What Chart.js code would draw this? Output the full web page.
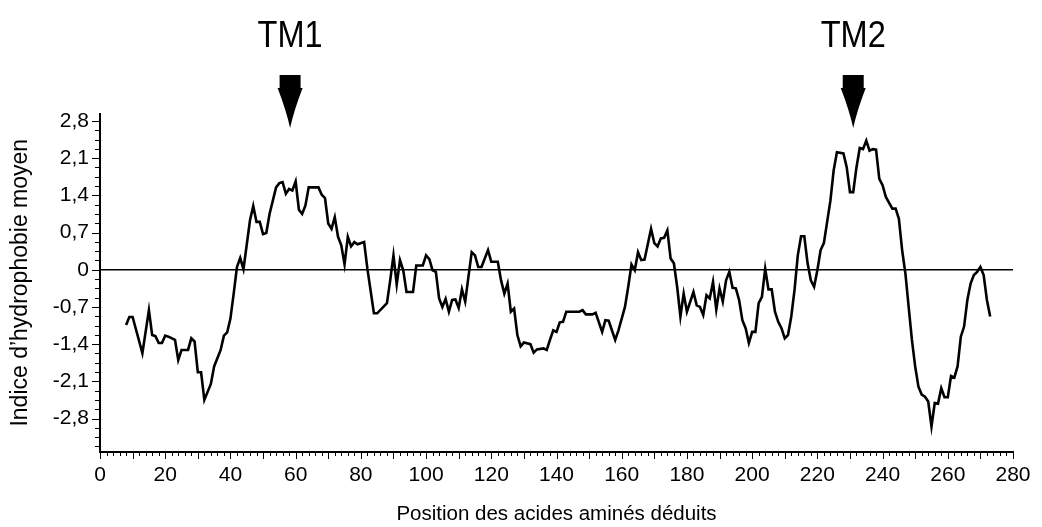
<!DOCTYPE html>
<html>
<head>
<meta charset="utf-8">
<script src="https://cdn.jsdelivr.net/npm/chart.js@4"></script>
<style>
  html, body { margin: 0; padding: 0; background: #fff; }
  #wrap { width: 1042px; height: 527px; }
</style>
</head>
<body>
<div id="wrap"><canvas id="chartHydro" width="1042" height="527"></canvas></div>
<script>
// positions des résidus (axe x) et indice d'hydrophobie
const positions = [
  8, 9, 10, 13, 15, 16, 17, 18, 19, 20, 21, 23, 24, 25, 27, 28, 29, 30, 31, 32,
  34, 35, 37, 38, 39, 40, 41, 42, 43, 44, 46, 47, 48, 49, 50, 51, 52, 54, 55, 56,
  57, 58, 59, 60, 61, 62, 63, 64, 67, 68, 69, 70, 71, 72, 73, 74, 75, 76, 77, 78,
  79, 81, 82, 84, 85, 88, 89, 90, 91, 92, 93, 94, 96, 97, 99, 100, 101, 102, 103, 104,
  105, 106, 107, 108, 109, 110, 111, 112, 113, 114, 115, 116, 117, 119, 120, 122, 123, 124, 125, 126,
  127, 128, 129, 130, 132, 133, 134, 136, 137, 138, 139, 140, 141, 142, 143, 147, 148, 149, 151, 152,
  154, 155, 156, 158, 159, 161, 162, 163, 164, 165, 166, 167, 169, 170, 171, 172, 173, 174, 175, 176,
  177, 178, 179, 180, 182, 183, 184, 185, 186, 187, 188, 189, 190, 191, 192, 193, 194, 195, 196, 197,
  198, 199, 200, 201, 202, 203, 204, 205, 206, 207, 208, 209, 210, 211, 212, 213, 214, 215, 216, 217,
  218, 219, 220, 221, 222, 224, 225, 226, 228, 229, 230, 231, 232, 233, 234, 235, 236, 237, 238, 239,
  240, 241, 243, 244, 245, 246, 247, 248, 249, 250, 251, 252, 253, 254, 255, 256, 257, 258, 259, 260,
  261, 262, 263, 264, 265, 266, 267, 268, 269, 270, 271, 272, 273
];
const hydro = [
  -1.04, -0.89, -0.89, -1.57, -0.76, -1.23, -1.25, -1.38, -1.38, -1.24, -1.26, -1.32, -1.70, -1.51, -1.51, -1.29, -1.35, -1.93, -1.93, -2.45,
  -2.15, -1.82, -1.51, -1.24, -1.18, -0.92, -0.45, 0.05, 0.22, 0.01, 0.93, 1.20, 0.90, 0.90, 0.67, 0.69, 1.05, 1.55, 1.63, 1.65,
  1.43, 1.52, 1.49, 1.66, 1.13, 1.05, 1.21, 1.55, 1.55, 1.41, 1.35, 0.87, 0.77, 0.99, 0.62, 0.46, 0.10, 0.62, 0.44, 0.52,
  0.48, 0.52, 0.02, -0.82, -0.82, -0.63, -0.20, 0.27, -0.28, 0.18, -0.01, -0.42, -0.42, 0.08, 0.08, 0.27, 0.20, -0.01, -0.04, -0.54,
  -0.70, -0.55, -0.79, -0.57, -0.56, -0.72, -0.37, -0.60, -0.13, 0.33, 0.27, 0.05, 0.05, 0.37, 0.15, 0.15, -0.20, -0.45, -0.26, -0.79,
  -0.73, -1.23, -1.44, -1.37, -1.40, -1.56, -1.50, -1.48, -1.51, -1.32, -1.14, -1.17, -0.99, -0.98, -0.79, -0.79, -0.76, -0.84, -0.84, -0.81,
  -1.17, -0.95, -0.96, -1.32, -1.14, -0.70, -0.32, 0.10, -0.01, 0.33, 0.18, 0.19, 0.77, 0.50, 0.44, 0.59, 0.60, 0.74, 0.21, 0.12,
  -0.32, -0.88, -0.45, -0.79, -0.42, -0.67, -0.70, -0.85, -0.48, -0.54, -0.23, -0.75, -0.35, -0.60, -0.20, -0.04, -0.34, -0.35, -0.57, -0.95,
  -1.10, -1.38, -1.17, -1.17, -0.63, -0.51, 0.02, -0.37, -0.37, -0.79, -0.98, -1.10, -1.29, -1.23, -0.88, -0.38, 0.27, 0.63, 0.63, 0.12,
  -0.20, -0.32, -0.01, 0.37, 0.50, 1.30, 1.87, 2.21, 2.19, 1.93, 1.46, 1.46, 1.93, 2.29, 2.27, 2.43, 2.24, 2.27, 2.26, 1.71,
  1.59, 1.37, 1.15, 1.15, 0.96, 0.37, -0.07, -0.70, -1.32, -1.82, -2.20, -2.35, -2.39, -2.48, -2.95, -2.51, -2.52, -2.23, -2.40, -2.40,
  -2.00, -2.03, -1.82, -1.26, -1.07, -0.57, -0.26, -0.10, -0.04, 0.05, -0.10, -0.57, -0.88
];

// graduations
const yTickValues = [-2.8, -2.1, -1.4, -0.7, 0, 0.7, 1.4, 2.1, 2.8];
const xTickValues = [0, 20, 40, 60, 80, 100, 120, 140, 160, 180, 200, 220, 240, 260, 280];

// segments transmembranaires
const tmLabels = ['TM1', 'TM2'];
const tmPositions = [58.3, 231];

const FONT = "'Liberation Sans', Arial, sans-serif";

const fmt = (v) => {
    if (Math.abs(v) < 1e-9) return '0';
    return v.toFixed(1).replace('.', ',');
};

// petites graduations + fleches TM
const extrasPlugin = {
    id: 'extras',
    afterDraw(chart) {
        const ctx = chart.ctx;
        const xs = chart.scales.x;
        const ys = chart.scales.y;
        const area = chart.chartArea;
        ctx.save();
        ctx.strokeStyle = '#000';
        ctx.lineWidth = 1;

        // x : graduation tous les 2, longue tous les 10
        for (let v = 0; v <= 280; v += 2) {
            const px = Math.round(xs.getPixelForValue(v)) + 0.5;
            const len = (v % 10 === 0) ? 7 : 4;
            ctx.beginPath();
            ctx.moveTo(px, area.bottom);
            ctx.lineTo(px, area.bottom + len);
            ctx.stroke();
        }
        // y : graduation tous les 0,175
        for (let i = -19; i <= 16; i++) {
            const v = i * 0.175;
            if (v < ys.min || v > ys.max) continue;
            const py = Math.round(ys.getPixelForValue(v)) + 0.5;
            const len = (i % 4 === 0) ? 8 : 5;
            ctx.beginPath();
            ctx.moveTo(area.left - len, py);
            ctx.lineTo(area.left, py);
            ctx.stroke();
        }

        // fleches et etiquettes
        ctx.fillStyle = '#000';
        tmPositions.forEach((pos, i) => {
            const cx = xs.getPixelForValue(pos);
            const tip = 128;
            ctx.beginPath();
            ctx.rect(cx - 10.5, tip - 53, 21, 14);
            ctx.fill();
            ctx.beginPath();
            ctx.moveTo(cx - 12.5, tip - 40);
            ctx.lineTo(cx + 12.5, tip - 40);
            ctx.quadraticCurveTo(cx + 4, tip - 18, cx, tip);
            ctx.quadraticCurveTo(cx - 4, tip - 18, cx - 12.5, tip - 40);
            ctx.fill();

            ctx.save();
            ctx.translate(cx, 47);
            ctx.scale(0.88, 1);
            ctx.font = '37px ' + FONT;
            ctx.textAlign = 'center';
            ctx.textBaseline = 'alphabetic';
            ctx.fillText(tmLabels[i], 0, 0);
            ctx.restore();
        });
        ctx.restore();
    }
};

new Chart(document.getElementById('chartHydro'), {
    type: 'line',
    data: {
        datasets: [{
            data: positions.map((p, i) => ({ x: p, y: hydro[i] })),
            borderColor: '#000',
            borderWidth: 2.6,
            pointRadius: 0,
            tension: 0,
            fill: false,
        }],
    },
    options: {
        responsive: false,
        devicePixelRatio: 1,
        animation: false,
        layout: { padding: { top: 113.5, right: 29, bottom: 0, left: 0 } },
        plugins: { legend: { display: false }, tooltip: { enabled: false } },
        scales: {
            x: {
                type: 'linear',
                min: 0,
                max: 280,
                afterBuildTicks: (scale) => { scale.ticks = xTickValues.map(v => ({ value: v })); },
                afterFit: (scale) => { scale.height = 75; },
                border: { color: '#000', width: 2 },
                grid: { display: false },
                ticks: {
                    color: '#000',
                    font: { family: FONT, size: 21 },
                    padding: 3,
                    maxRotation: 0,
                    autoSkip: false,
                    callback: (v) => String(v),
                },
                title: {
                    display: true,
                    text: 'Position des acides aminés déduits',
                    color: '#000',
                    font: { family: FONT, size: 20.5 },
                    padding: { top: 0, bottom: 0 },
                },
            },
            y: {
                type: 'linear',
                min: -3.43,
                max: 2.94,
                afterBuildTicks: (scale) => { scale.ticks = yTickValues.map(v => ({ value: v })); },
                afterFit: (scale) => { scale.width = 100; },
                border: { color: '#000', width: 2 },
                grid: {
                    drawOnChartArea: true,
                    drawTicks: true,
                    tickLength: 8,
                    tickColor: 'transparent',
                    color: (c) => (c.tick && Math.abs(c.tick.value) < 1e-9) ? '#000' : 'transparent',
                    lineWidth: 1.5,
                },
                ticks: {
                    color: '#000',
                    font: { family: FONT, size: 21 },
                    padding: 3,
                    autoSkip: false,
                    callback: (v) => fmt(v),
                },
                title: {
                    display: true,
                    text: 'Indice d\u2019hydrophobie moyen',
                    color: '#000',
                    font: { family: FONT, size: 23 },
                    padding: { top: 7, bottom: 0 },
                },
            },
        },
    },
    plugins: [extrasPlugin],
});
</script>
</body>
</html>
